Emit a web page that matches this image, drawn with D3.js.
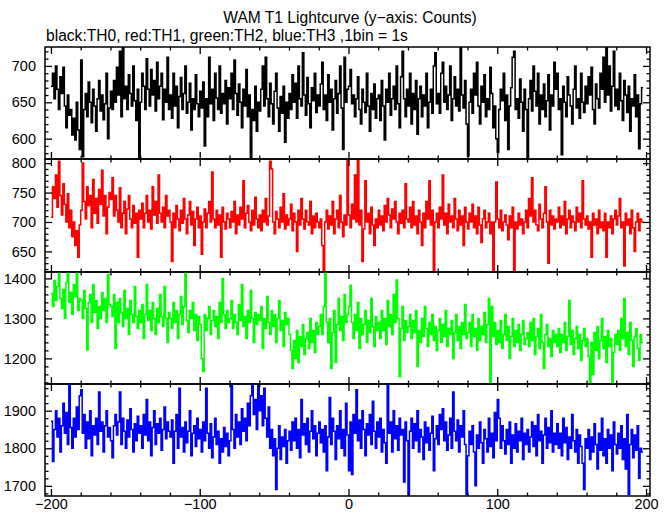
<!DOCTYPE html>
<html><head><meta charset="utf-8">
<script src="https://cdn.jsdelivr.net/npm/d3@7"></script>
<style>
html,body{margin:0;padding:0;background:#fff;}
svg{display:block;font-family:"Liberation Sans",Arial,Helvetica,sans-serif;}
</style></head>
<body><svg id="c" width="669" height="515"></svg>
<script>
const title = "WAM T1 Lightcurve (y\u2212axis: Counts)";
const subtitle = "black:TH0, red:TH1, green:TH2, blue:TH3 ,1bin = 1s";
const timeStart = -200;      // first bin start (s), 1 bin = 1 s
const xTicksMajor = [-200, -100, 0, 100, 200];

const th0 = [
672,690,655,700,668,640,685,662,698,645,615,660,632,640,605,628,598,650,612,585,
708,575,640,662,630,678,650,622,668,645,610,655,680,638,660,626,648,690,600,642,
665,640,680,650,698,660,720,630,726,655,672,640,688,662,645,700,652,625,668,572,
650,690,672,640,710,668,645,695,660,680,638,705,655,672,690,626,668,650,712,640,
660,628,690,645,672,615,658,684,640,662,700,635,650,676,612,655,640,688,648,630,
665,642,678,590,655,630,712,648,668,625,690,656,640,700,635,662,648,680,620,670,
655,690,640,708,662,632,675,650,615,668,645,695,630,660,574,640,625,672,610,650,
638,668,700,645,712,655,630,676,648,620,665,690,642,610,658,635,672,595,650,628,
662,640,688,650,676,628,700,655,645,718,660,632,684,648,615,670,652,690,636,660,
645,675,705,640,660,625,688,650,668,612,655,680,635,662,700,642,585,712,650,668,
672,695,648,660,630,655,685,640,620,668,650,636,690,645,610,662,640,675,628,655,
660,625,680,645,598,668,650,690,632,655,672,640,700,648,615,685,720,655,630,668,
645,690,620,662,640,680,606,655,672,630,660,645,690,615,650,668,635,700,718,648,
662,635,690,705,650,672,640,660,700,625,655,685,645,668,638,725,660,642,680,620,
576,650,668,635,690,660,705,645,620,672,650,688,630,655,640,698,662,615,645,600,
581,640,668,652,690,625,660,585,645,670,712,720,640,655,628,682,650,610,668,640,
572,655,680,638,700,665,645,690,620,660,640,675,630,652,688,612,660,645,705,668,
690,640,655,578,672,650,630,685,660,645,620,668,700,642,655,628,690,650,636,672,
648,685,660,698,640,620,675,655,642,690,668,712,650,725,660,700,638,672,720,645,
668,640,690,652,625,680,660,636,672,610,655,645,688,630,660,586,648,670];

const th1 = [
708,760,740,780,725,803,745,712,765,730,700,748,690,720,675,700,660,685,640,695,
720,800,735,705,760,728,745,690,772,715,740,698,755,730,788,710,745,680,725,750,
738,775,710,745,720,700,758,690,715,735,680,722,745,705,690,728,698,715,640,720,
705,732,690,715,745,700,720,688,760,712,735,698,780,715,700,725,690,745,710,720,
700,633,715,690,728,705,685,720,698,740,705,680,712,735,695,718,660,705,725,690,
710,645,700,722,690,715,735,700,785,705,690,720,695,712,640,725,700,688,715,705,
690,718,700,735,680,712,695,725,705,770,690,715,728,700,685,720,695,742,705,690,
712,685,720,700,740,695,710,803,790,700,680,718,705,690,725,700,748,688,712,695,
705,730,685,715,700,650,720,695,740,705,688,720,700,695,735,680,710,690,715,700,
690,705,660,617,700,720,688,710,695,735,680,705,720,690,745,700,675,712,695,805,
712,690,730,705,780,700,804,695,720,633,688,770,700,715,680,725,695,660,705,690,
720,695,710,685,728,700,740,712,690,722,705,735,700,680,715,698,720,690,765,705,
700,725,690,735,695,710,680,720,700,660,715,690,735,705,770,695,720,617,700,715,
690,725,705,780,695,715,680,730,700,710,690,740,705,685,720,695,710,660,725,700,
688,715,700,730,690,710,680,725,695,665,705,720,690,700,715,680,700,617,700,768,
705,690,720,685,700,712,695,670,710,690,725,617,700,688,715,695,705,680,700,720,
690,740,710,775,700,720,695,685,730,705,690,715,760,700,630,720,695,710,688,705,
700,725,690,710,695,735,680,705,720,690,710,700,685,725,700,715,690,770,705,695,
710,688,700,640,715,695,705,680,720,690,700,685,715,640,700,690,710,680,705,720,
695,710,740,690,700,625,715,695,705,680,720,690,650,700,715,685,705,700];

const th2 = [
1362,1330,1395,1345,1380,1416,1350,1325,1372,1300,1390,1416,1340,1365,1310,1384,1355,1416,1320,1350,
1345,1300,1370,1325,1221,1340,1360,1290,1385,1315,1345,1275,1330,1300,1365,1320,1350,1290,1410,1335,
1330,1305,1360,1225,1340,1290,1350,1315,1280,1370,1300,1325,1260,1345,1310,1290,1380,1305,1275,1320,
1290,1335,1250,1310,1385,1295,1320,1270,1340,1300,1260,1325,1290,1360,1305,1280,1380,1300,1240,1315,
1300,1275,1340,1290,1320,1250,1310,1355,1285,1330,1416,1295,1265,1320,1300,1340,1270,1310,1245,1305,
1285,1200,1167,1310,1270,1300,1330,1260,1295,1320,1280,1305,1250,1340,1290,1400,1310,1275,1320,1290,
1300,1345,1275,1310,1290,1260,1335,1295,1385,1280,1305,1250,1320,1290,1370,1300,1240,1315,1285,1310,
1295,1330,1225,1300,1275,1355,1290,1260,1320,1280,1310,1240,1300,1345,1270,1295,1230,1315,1285,1300,
1260,1220,1175,1245,1200,1270,1190,1255,1230,1285,1210,1250,1265,1225,1300,1240,1270,1215,1290,1260,
1280,1310,1260,1330,1416,1290,1240,1300,1175,1265,1320,1190,1285,1350,1270,1305,1245,1360,1290,1310,
1330,1383,1290,1250,1310,1270,1340,1225,1300,1260,1285,1320,1240,1295,1265,1350,1280,1230,1305,1270,
1290,1250,1320,1270,1300,1235,1345,1280,1310,1260,1360,1290,1396,1300,1154,1275,1330,1245,1295,1265,
1280,1310,1250,1295,1265,1320,1180,1270,1240,1300,1255,1330,1275,1230,1290,1260,1310,1245,1280,1220,
1270,1300,1240,1285,1255,1320,1230,1275,1260,1295,1200,1265,1310,1245,1280,1225,1290,1260,1335,1250,
1265,1290,1230,1310,1255,1275,1220,1300,1245,1280,1260,1315,1240,1285,1350,1140,1330,1255,1290,1235,
1270,1240,1295,1225,1260,1310,1245,1280,1200,1255,1300,1230,1270,1240,1285,1220,1260,1295,1235,1250,
1265,1230,1290,1245,1300,1210,1255,1275,1225,1310,1240,1175,1260,1285,1230,1250,1205,1270,1240,1260,
1230,1275,1215,1260,1240,1290,1220,1255,1345,1235,1270,1210,1250,1280,1225,1260,1195,1245,1275,1230,
1250,1205,1137,1240,1160,1265,1220,1280,1200,1245,1300,1225,1255,1190,1270,1230,1250,1137,1215,1260,
1235,1270,1220,1300,1250,1350,1230,1265,1210,1290,1245,1180,1255,1275,1225,1195,1260,1240];

const th3 = [
1872,1765,1850,1900,1830,1880,1790,1860,1920,1840,1895,1810,1969,1855,1800,1880,1830,1910,1850,1940,
1956,1840,1890,1800,1870,1825,1900,1780,1860,1835,1880,1810,1950,1845,1870,1790,1860,1900,1830,1855,
1820,1775,1860,1890,1835,1870,1950,1810,1880,1845,1800,1875,1830,1905,1850,1790,1865,1820,1885,1840,
1860,1800,1890,1835,1930,1820,1870,1780,1855,1900,1810,1865,1840,1880,1795,1850,1910,1825,1870,1845,
1830,1875,1760,1845,1890,1800,1960,1830,1855,1790,1870,1815,1845,1900,1780,1840,1860,1805,1880,1825,
1850,1790,1870,1820,1960,1840,1800,1865,1775,1830,1880,1810,1845,1760,1825,1790,1855,1805,1840,1780,
1820,1969,1850,1800,1890,1830,1870,1810,1905,1845,1880,1820,1920,1860,1940,1969,1890,1930,1850,1969,
1900,1940,1860,1960,1880,1830,1910,1800,1850,1780,1825,1690,1800,1860,1770,1830,1805,1850,1760,1820,
1845,1795,1870,1820,1880,1800,1850,1775,1930,1835,1865,1810,1880,1790,1845,1900,1825,1860,1780,1840,
1870,1815,1850,1790,1860,1740,1830,1935,1810,1880,1845,1770,1860,1825,1900,1800,1850,1780,1920,1835,
1740,1870,1730,1890,1840,1956,1820,1875,1800,1900,1850,1780,1865,1835,1890,1810,1925,1845,1800,1870,
1830,1880,1790,1850,1815,1760,1969,1840,1870,1790,1900,1825,1860,1795,1880,1835,1850,1710,1870,1820,
1677,1845,1880,1800,1865,1820,1900,1790,1850,1830,1770,1870,1815,1855,1795,1840,1885,1740,1825,1860,
1810,1890,1850,1905,1820,1870,1795,1835,1880,1800,1950,1845,1820,1875,1790,1860,1830,1900,1810,1677,
1780,1845,1810,1860,1790,1700,1835,1800,1870,1815,1760,1850,1825,1790,1880,1805,1840,1775,1895,1820,
1930,1880,1800,1860,1820,1785,1850,1810,1870,1760,1835,1800,1865,1790,1845,1820,1880,1770,1840,1810,
1850,1790,1830,1870,1805,1860,1780,1890,1820,1845,1760,1835,1880,1800,1855,1815,1900,1790,1840,1810,
1865,1800,1840,1780,1880,1815,1855,1770,1830,1800,1890,1820,1790,1850,1760,1835,1805,1760,1690,1825,
1800,1850,1770,1830,1790,1865,1810,1745,1840,1795,1880,1780,1825,1760,1850,1800,1835,1740,1870,1810,
1785,1840,1800,1860,1770,1825,1745,1890,1677,1810,1850,1775,1835,1795,1860,1720,1800,1790];

const th0Ticks = [600, 650, 700];
const th1Ticks = [650, 700, 750, 800];
const th2Ticks = [1200, 1300, 1400];
const th3Ticks = [1700, 1800, 1900];

// ---- layout ----
const svg = d3.select("#c");
const L = 45, R = 650;
const panelEdges = [47, 159, 272, 384, 496];
const panels = [
  {data: th0, color: "#000000", domain: [572, 726], ticks: th0Ticks, minorStep: 10},
  {data: th1, color: "#ff0000", domain: [615, 807], ticks: th1Ticks, minorStep: 10},
  {data: th2, color: "#00ff00", domain: [1136, 1416], ticks: th2Ticks, minorStep: 20},
  {data: th3, color: "#0000ff", domain: [1673, 1971], ticks: th3Ticks, minorStep: 20}
];

const x = d3.scaleLinear().domain([-204, 202.67]).range([L, R]);
const xMinor = d3.range(-200, 201, 20);

svg.append("text").attr("x", 350).attr("y", 23).attr("text-anchor", "middle")
  .attr("font-size", 15.6).text(title);
svg.append("text").attr("x", 46).attr("y", 41).attr("text-anchor", "start")
  .attr("font-size", 15.6).text(subtitle);

panels.forEach((p, k) => {
  const top = panelEdges[k], bot = panelEdges[k + 1];
  const y = d3.scaleLinear().domain(p.domain).range([bot, top]);
  const g = svg.append("g");
  const clipId = "clip" + k;
  svg.append("clipPath").attr("id", clipId).append("rect")
    .attr("x", L).attr("y", top).attr("width", R - L).attr("height", bot - top);

  const pts = p.data.map((v, i) => [timeStart + i, v]);
  pts.push([timeStart + p.data.length, p.data[p.data.length - 1]]);
  const line = d3.line().x(d => x(d[0])).y(d => y(d[1])).curve(d3.curveStepAfter);
  g.append("path").attr("clip-path", `url(#${clipId})`).attr("d", line(pts))
    .attr("fill", "none").attr("stroke", p.color).attr("stroke-width", 1.5);

  const minor = d3.range(Math.ceil(p.domain[0] / p.minorStep) * p.minorStep, p.domain[1], p.minorStep)
    .filter(v => !p.ticks.includes(v));

  // left axis
  const la = g.append("g").attr("transform", `translate(${L},0)`)
    .call(d3.axisLeft(y).tickValues(p.ticks).tickSize(-7).tickPadding(9).tickFormat(d3.format("d")));
  la.append("g").call(d3.axisLeft(y).tickValues(minor).tickSize(-3.5).tickFormat(""));
  // right axis
  const ra = g.append("g").attr("transform", `translate(${R},0)`)
    .call(d3.axisRight(y).tickValues(p.ticks).tickSize(-7).tickFormat(""));
  ra.append("g").call(d3.axisRight(y).tickValues(minor).tickSize(-3.5).tickFormat(""));
  // top / bottom x ticks
  const xm = xMinor.filter(v => !xTicksMajor.includes(v));
  const ta = g.append("g").attr("transform", `translate(0,${top})`)
    .call(d3.axisTop(x).tickValues(xTicksMajor).tickSize(-7).tickFormat(""));
  ta.append("g").call(d3.axisTop(x).tickValues(xm).tickSize(-3.5).tickFormat(""));
  const ba = g.append("g").attr("transform", `translate(0,${bot})`)
    .call(d3.axisBottom(x).tickValues(xTicksMajor).tickSize(-7).tickPadding(3)
      .tickFormat(k === 3 ? d3.format("d") : ""));
  ba.append("g").call(d3.axisBottom(x).tickValues(xm).tickSize(-3.5).tickFormat(""));

  g.selectAll(".domain").remove();
  g.selectAll(".tick line").attr("stroke", "#000").attr("stroke-width", 1.3);
  g.selectAll(".tick text").attr("font-size", 14.5).attr("fill", "#000")
    .attr("font-family", "Liberation Sans, Arial, sans-serif");

  g.append("rect").attr("x", L).attr("y", top).attr("width", R - L).attr("height", bot - top)
    .attr("fill", "none").attr("stroke", "#000").attr("stroke-width", 1.5);
});
</script></body></html>
